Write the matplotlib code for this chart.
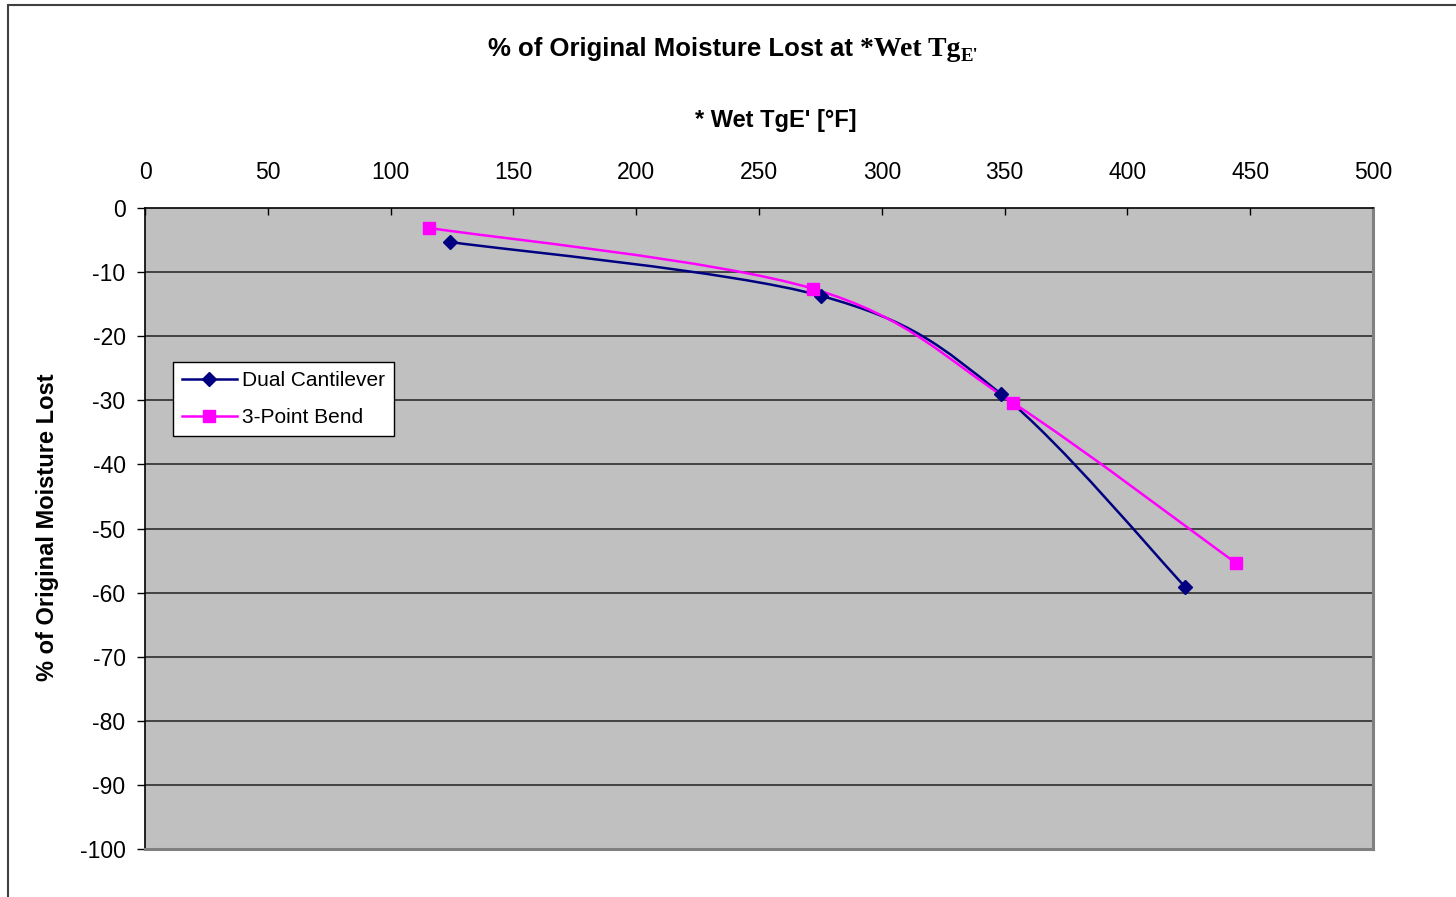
import matplotlib

matplotlib.use("Agg")

import matplotlib.pyplot as plt
from matplotlib.lines import Line2D
from matplotlib.patches import PathPatch, Rectangle
from matplotlib.path import Path

plt.rcParams["axes.unicode_minus"] = False

# Wet Tg (E') in °F against % of original moisture lost
dual_x = [124.2, 275.2, 348.5, 423.5]
dual_y = [-5.3, -13.7, -29.0, -59.1]
bend_x = [115.6, 272.0, 353.4, 444.2]
bend_y = [-3.1, -12.6, -30.4, -55.4]

x_ticks = list(range(0, 501, 50))
y_ticks = list(range(0, -101, -10))

NAVY = "#000080"
MAGENTA = "#ff00ff"
PLOT_BG = "#c0c0c0"
SANS = "Liberation Sans"
SERIF = "Liberation Serif"


def smooth_path(xs, ys):
    """Excel-style smoothed line: cubic Bezier segments with Catmull-Rom tangents."""
    pts = list(zip(xs, ys))
    verts = [pts[0]]
    codes = [Path.MOVETO]
    n = len(pts)
    for i in range(n - 1):
        p0 = pts[max(i - 1, 0)]
        p1 = pts[i]
        p2 = pts[i + 1]
        p3 = pts[min(i + 2, n - 1)]
        c1 = (p1[0] + (p2[0] - p0[0]) / 6, p1[1] + (p2[1] - p0[1]) / 6)
        c2 = (p2[0] - (p3[0] - p1[0]) / 6, p2[1] - (p3[1] - p1[1]) / 6)
        verts += [c1, c2, p2]
        codes += [Path.CURVE4] * 3
    return Path(verts, codes)


fig = plt.figure(figsize=(14.56, 8.97), dpi=100)
fig.patch.set_facecolor("white")

# chart area border (runs off the right and bottom edges)
fig.patches.append(Rectangle((8 / 1456, -0.1), 1.2, 1 - 5 / 897 + 0.1,
                             transform=fig.transFigure, fill=False,
                             edgecolor="#404040", linewidth=1.5))

ax = fig.add_axes([145 / 1456, 1 - 849 / 897, 1228 / 1456, 641 / 897])
ax.set_facecolor(PLOT_BG)
ax.set_xlim(0, 500)
ax.set_ylim(-100, 0)

for v in y_ticks[1:-1]:
    ax.axhline(v, color="#202020", linewidth=1.1, zorder=1)

for xs, ys, color, marker, ms in (
    (dual_x, dual_y, NAVY, "D", 7.5),
    (bend_x, bend_y, MAGENTA, "s", 8.5),
):
    ax.add_patch(PathPatch(smooth_path(xs, ys), fill=False, edgecolor=color,
                           linewidth=1.8, zorder=3))
    ax.plot(xs, ys, linestyle="none", marker=marker, markersize=ms,
            color=color, markeredgecolor=color, zorder=4)

handles = [
    Line2D([], [], color=NAVY, linewidth=1.8, marker="D", markersize=7.5),
    Line2D([], [], color=MAGENTA, linewidth=1.8, marker="s", markersize=8.5),
]
leg = ax.legend(handles, ["Dual Cantilever", "3-Point Bend"], loc="upper left",
                bbox_to_anchor=(28 / 1228, 1 - 154 / 641), borderaxespad=0,
                fancybox=False, framealpha=1, edgecolor="black",
                prop={"family": SANS, "size": 15}, handlelength=2.6,
                handletextpad=0.25, borderpad=0.45, labelspacing=0.85)
leg.get_frame().set_linewidth(1.0)

ax.spines["top"].set_color("black")
ax.spines["left"].set_color("black")
ax.spines["top"].set_linewidth(1.2)
ax.spines["left"].set_linewidth(1.2)
for side in ("right", "bottom"):
    ax.spines[side].set_color("#808080")
    ax.spines[side].set_linewidth(2.2)

ax.xaxis.tick_top()
ax.set_xticks(x_ticks)
ax.set_yticks(y_ticks)
ax.tick_params(axis="x", direction="in", length=5, width=1, pad=17,
               labelsize=16.5, colors="black")
ax.tick_params(axis="y", direction="out", length=6, width=1, pad=8,
               labelsize=16.5, colors="black")
for lab in ax.get_xticklabels() + ax.get_yticklabels():
    lab.set_family(SANS)

fig.text(776 / 1456, 1 - 121 / 897, "* Wet TgE' [°F]", ha="center", va="center",
         family=SANS, fontweight="bold", fontsize=17)
fig.text(48 / 1456, 1 - 527 / 897, "% of Original Moisture Lost", ha="center",
         va="center", rotation=90, family=SANS, fontweight="bold", fontsize=17)

# title mixes Arial-style and Times-style runs, with a subscripted E'
renderer = fig.canvas.get_renderer()
parts = [
    ("% of Original Moisture Lost at ", SANS, 18.5, 0),
    ("*Wet Tg", SERIF, 20, 0),
    ("E'", SERIF, 13.5, -5),
]
texts = []
for s, fam, size, dy in parts:
    t = fig.text(0, 0, s, family=fam, fontsize=size, fontweight="bold",
                 ha="left", va="baseline")
    texts.append((t, dy))
widths = [t.get_window_extent(renderer).width for t, _ in texts]
x_px = 733 - sum(widths) / 2
base_px = 897 - 56
for (t, dy), w in zip(texts, widths):
    t.set_position((x_px / 1456, (base_px + dy) / 897))
    x_px += w

fig.savefig("out.png", dpi=100)
